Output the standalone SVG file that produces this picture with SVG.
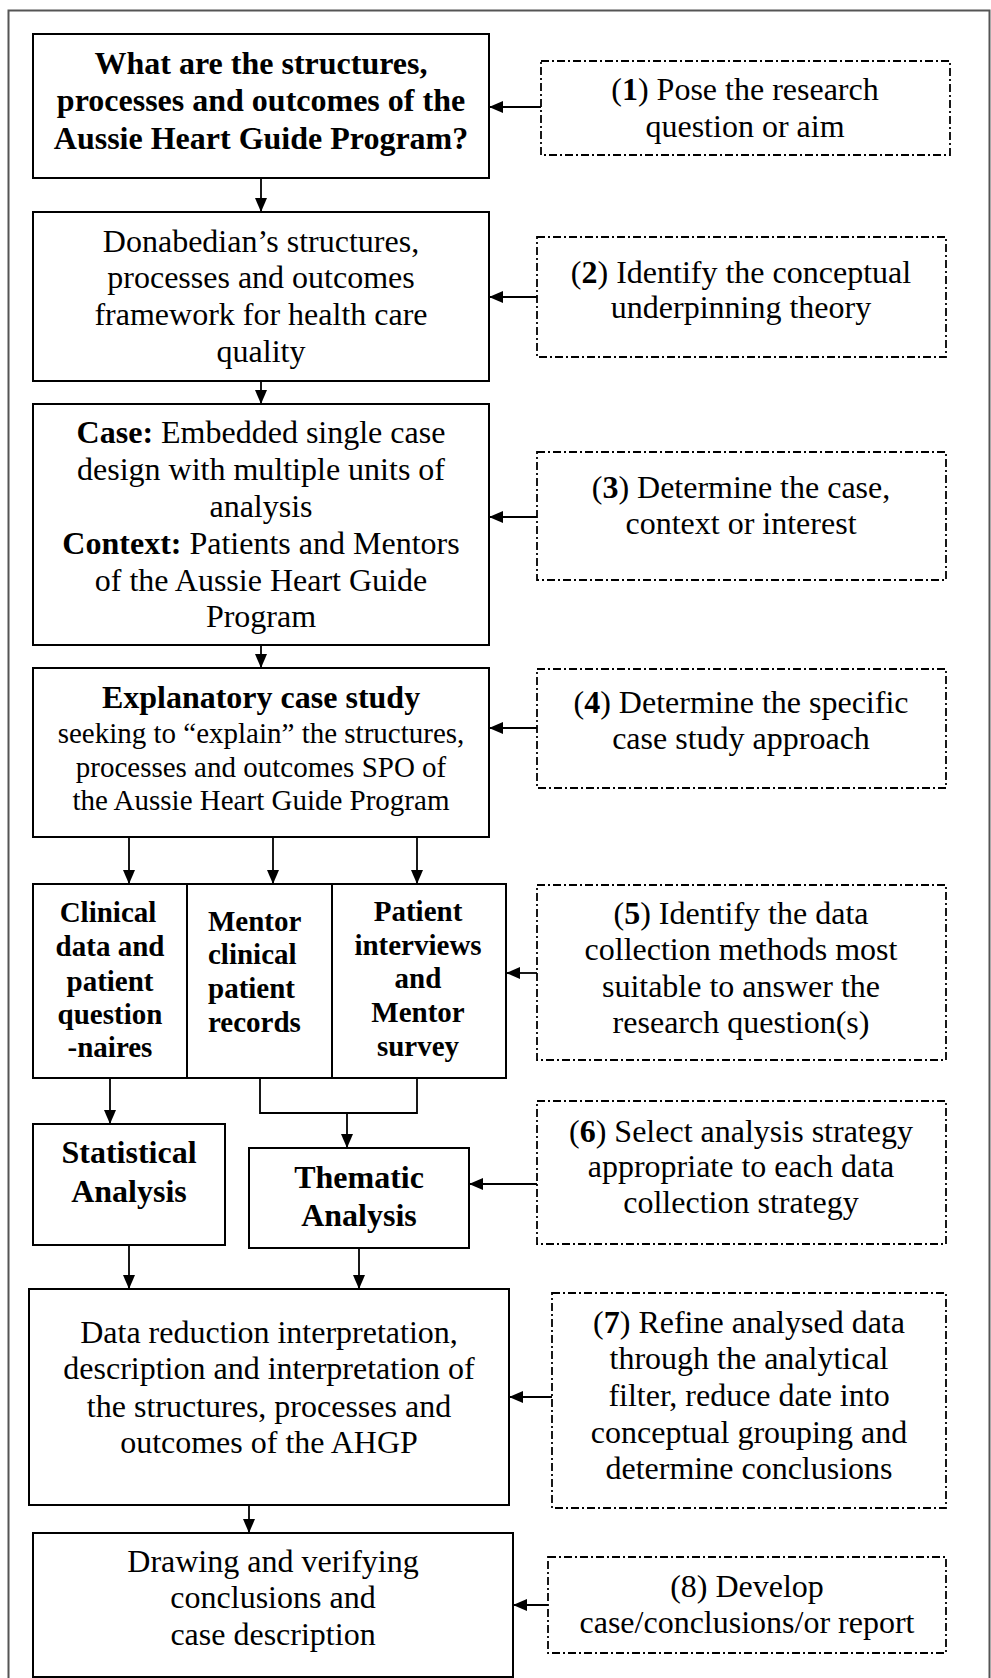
<svg xmlns="http://www.w3.org/2000/svg" width="991" height="1678" viewBox="0 0 991 1678">
<style>
.frame{fill:none;stroke:#555;stroke-width:2}
.box{fill:#fff;stroke:#000;stroke-width:2}
.side{fill:#fff;stroke:#000;stroke-width:1.8;stroke-dasharray:8 3 2 3}
.t{font-family:"Liberation Serif","Times New Roman",serif;font-size:32px;text-anchor:middle;fill:#000}
.s29{font-size:29px}
.b{font-weight:bold}
.l{text-anchor:start}
.conn{stroke:#000;stroke-width:1.8;fill:none}
.arr{marker-end:url(#ah)}
</style>
<defs>
<marker id="ah" markerUnits="userSpaceOnUse" markerWidth="14" markerHeight="12" refX="14" refY="6" orient="auto">
<path d="M0,0 L14,6 L0,12 z" fill="#000"/>
</marker>
</defs>
<rect class="frame" x="8.5" y="10.5" width="981" height="1690"/>

<g id="connectors">
<line class="conn arr" x1="261" y1="178" x2="261" y2="212"/>
<line class="conn arr" x1="261" y1="381" x2="261" y2="404"/>
<line class="conn arr" x1="261" y1="645" x2="261" y2="668"/>
<line class="conn arr" x1="129" y1="837" x2="129" y2="884"/>
<line class="conn arr" x1="273" y1="837" x2="273" y2="884"/>
<line class="conn arr" x1="417" y1="837" x2="417" y2="884"/>
<line class="conn arr" x1="110" y1="1078" x2="110" y2="1124"/>
<polyline class="conn" points="260,1078 260,1113 417,1113 417,1078"/>
<line class="conn arr" x1="347" y1="1113" x2="347" y2="1148"/>
<line class="conn arr" x1="129" y1="1245" x2="129" y2="1289"/>
<line class="conn arr" x1="359" y1="1248" x2="359" y2="1289"/>
<line class="conn arr" x1="249" y1="1505" x2="249" y2="1533"/>
<line class="conn arr" x1="541" y1="107" x2="489" y2="107"/>
<line class="conn arr" x1="537" y1="297" x2="489" y2="297"/>
<line class="conn arr" x1="537" y1="517" x2="489" y2="517"/>
<line class="conn arr" x1="537" y1="728" x2="489" y2="728"/>
<line class="conn arr" x1="537" y1="973" x2="506" y2="973"/>
<line class="conn arr" x1="537" y1="1184" x2="469" y2="1184"/>
<line class="conn arr" x1="552" y1="1397" x2="509" y2="1397"/>
<line class="conn arr" x1="548" y1="1605" x2="513" y2="1605"/>
</g>

<g id="n1">
<rect class="box" x="33" y="34" width="456" height="144"/>
<text class="t b" x="261" y="74">What are the structures,</text>
<text class="t b" x="261" y="111">processes and outcomes of the</text>
<text class="t b" x="261" y="149">Aussie Heart Guide Program?</text>
</g>
<g id="n2">
<rect class="box" x="33" y="212" width="456" height="169"/>
<text class="t" x="261" y="252">Donabedian’s structures,</text>
<text class="t" x="261" y="288">processes and outcomes</text>
<text class="t" x="261" y="325">framework for health care</text>
<text class="t" x="261" y="362">quality</text>
</g>
<g id="n3">
<rect class="box" x="33" y="404" width="456" height="241"/>
<text class="t" x="261" y="443"><tspan class="b">Case:</tspan> Embedded single case</text>
<text class="t" x="261" y="480">design with multiple units of</text>
<text class="t" x="261" y="517">analysis</text>
<text class="t" x="261" y="554"><tspan class="b">Context:</tspan> Patients and Mentors</text>
<text class="t" x="261" y="591">of the Aussie Heart Guide</text>
<text class="t" x="261" y="627">Program</text>
</g>
<g id="n4">
<rect class="box" x="33" y="668" width="456" height="169"/>
<text class="t b" x="261" y="708">Explanatory case study</text>
<text class="t s29" x="261" y="743">seeking to “explain” the structures,</text>
<text class="t s29" x="261" y="777">processes and outcomes SPO of</text>
<text class="t s29" x="261" y="810">the Aussie Heart Guide Program</text>
</g>
<g id="n5a">
<rect class="box" x="33" y="884" width="154" height="194"/>
<text class="t b s29" x="108" y="922">Clinical</text>
<text class="t b s29" x="110" y="956">data and</text>
<text class="t b s29" x="110" y="991">patient</text>
<text class="t b s29" x="110" y="1024">question</text>
<text class="t b s29" x="110" y="1057">-naires</text>
</g>
<g id="n5b">
<rect class="box" x="187" y="884" width="145" height="194"/>
<text class="t b s29 l" x="208" y="931">Mentor</text>
<text class="t b s29 l" x="208" y="964">clinical</text>
<text class="t b s29 l" x="208" y="998">patient</text>
<text class="t b s29 l" x="208" y="1032">records</text>
</g>
<g id="n5c">
<rect class="box" x="332" y="884" width="174" height="194"/>
<text class="t b s29" x="418" y="921">Patient</text>
<text class="t b s29" x="418" y="955">interviews</text>
<text class="t b s29" x="418" y="988">and</text>
<text class="t b s29" x="418" y="1022">Mentor</text>
<text class="t b s29" x="418" y="1056">survey</text>
</g>
<g id="n6a">
<rect class="box" x="33" y="1124" width="192" height="121"/>
<text class="t b" x="129" y="1163">Statistical</text>
<text class="t b" x="129" y="1202">Analysis</text>
</g>
<g id="n6b">
<rect class="box" x="249" y="1148" width="220" height="100"/>
<text class="t b" x="359" y="1188">Thematic</text>
<text class="t b" x="359" y="1226">Analysis</text>
</g>
<g id="n7">
<rect class="box" x="29" y="1289" width="480" height="216"/>
<text class="t" x="269" y="1343">Data reduction interpretation,</text>
<text class="t" x="269" y="1379">description and interpretation of</text>
<text class="t" x="269" y="1417">the structures, processes and</text>
<text class="t" x="269" y="1453">outcomes of the AHGP</text>
</g>
<g id="n8">
<rect class="box" x="33" y="1533" width="480" height="144"/>
<text class="t" x="273" y="1572">Drawing and verifying</text>
<text class="t" x="273" y="1608">conclusions and</text>
<text class="t" x="273" y="1645">case description</text>
</g>

<g id="s1">
<rect class="side" x="541" y="61" width="409" height="94"/>
<text class="t" x="745" y="100">(<tspan class="b">1</tspan>) Pose the research</text>
<text class="t" x="745" y="137">question or aim</text>
</g>
<g id="s2">
<rect class="side" x="537" y="237" width="409" height="120"/>
<text class="t" x="741" y="283">(<tspan class="b">2</tspan>) Identify the conceptual</text>
<text class="t" x="741" y="318">underpinning theory</text>
</g>
<g id="s3">
<rect class="side" x="537" y="452" width="409" height="128"/>
<text class="t" x="741" y="498">(<tspan class="b">3</tspan>) Determine the case,</text>
<text class="t" x="741" y="534">context or interest</text>
</g>
<g id="s4">
<rect class="side" x="537" y="669" width="409" height="119"/>
<text class="t" x="741" y="713">(<tspan class="b">4</tspan>) Determine the specific</text>
<text class="t" x="741" y="749">case study approach</text>
</g>
<g id="s5">
<rect class="side" x="537" y="885" width="409" height="175"/>
<text class="t" x="741" y="924">(<tspan class="b">5</tspan>) Identify the data</text>
<text class="t" x="741" y="960">collection methods most</text>
<text class="t" x="741" y="997">suitable to answer the</text>
<text class="t" x="741" y="1033">research question(s)</text>
</g>
<g id="s6">
<rect class="side" x="537" y="1101" width="409" height="143"/>
<text class="t" x="741" y="1142">(<tspan class="b">6</tspan>) Select analysis strategy</text>
<text class="t" x="741" y="1177">appropriate to each data</text>
<text class="t" x="741" y="1213">collection strategy</text>
</g>
<g id="s7">
<rect class="side" x="552" y="1293" width="394" height="215"/>
<text class="t" x="749" y="1333">(<tspan class="b">7</tspan>) Refine analysed data</text>
<text class="t" x="749" y="1369">through the analytical</text>
<text class="t" x="749" y="1406">filter, reduce date into</text>
<text class="t" x="749" y="1443">conceptual grouping and</text>
<text class="t" x="749" y="1479">determine conclusions</text>
</g>
<g id="s8">
<rect class="side" x="548" y="1557" width="398" height="96"/>
<text class="t" x="747" y="1597">(8) Develop</text>
<text class="t" x="747" y="1633">case/conclusions/or report</text>
</g>
</svg>
